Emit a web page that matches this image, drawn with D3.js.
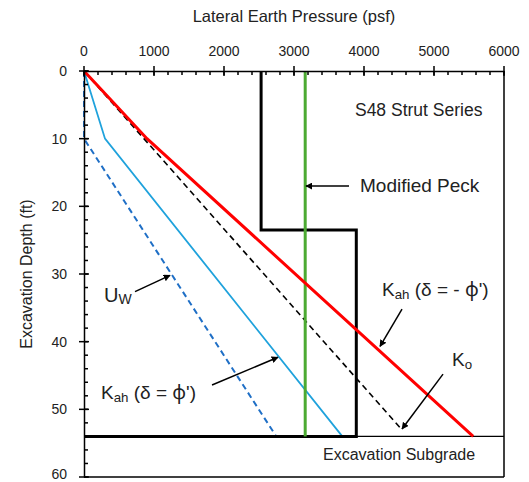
<!DOCTYPE html>
<html>
<head>
<meta charset="utf-8">
<script src="https://cdn.jsdelivr.net/npm/d3@7/dist/d3.min.js"></script>
<style>
  html, body { margin: 0; padding: 0; background: #fff; }
  svg { display: block; font-family: "Liberation Sans", Arial, sans-serif; }
</style>
</head>
<body>
<svg id="chart" width="529" height="482"></svg>
<script>
// ---------- data ----------
const xTicks = [0, 1000, 2000, 3000, 4000, 5000, 6000];
const yTicks = [0, 10, 20, 30, 40, 50, 60];

// Kah (delta = -phi')  red
const kahNegDepth = [0, 10, 54];
const kahNegPress = [0, 900, 5560];
// Kah (delta = phi')  light blue
const kahPosDepth = [0, 10, 54];
const kahPosPress = [0, 300, 3690];
// Ko  black dashed
const koDepth = [0, 53];
const koPress = [0, 4540];
// Uw  blue dashed
const uwDepth = [0, 10, 54];
const uwPress = [0, 0, 2746];
// apparent pressure envelope (black step)
const stepDepth = [0, 23.5, 23.5, 54, 54];
const stepPress = [2530, 2530, 3890, 3890, 0];
// Modified Peck (green)
const peckDepth = [0, 54];
const peckPress = [3160, 3160];
// excavation subgrade
const subgradeDepth = 54;

// ---------- layout ----------
const svg = d3.select("#chart");
const m = { top: 71, left: 84, right: 25, bottom: 5 };
const W = 529, H = 482;
const x = d3.scaleLinear().domain([0, 6000]).range([m.left, W - m.right]);
const y = d3.scaleLinear().domain([0, 60]).range([m.top, H - m.bottom]);

const line = (px, dp) => d3.line().x((d, i) => x(px[i])).y((d, i) => y(dp[i]))(px);

// frame (right & bottom)
svg.append("line").attr("x1", x(6000)).attr("x2", x(6000)).attr("y1", y(0)).attr("y2", y(60))
  .attr("stroke", "#000").attr("stroke-width", 1.5);
svg.append("line").attr("x1", x(0)).attr("x2", x(6000)).attr("y1", y(60)).attr("y2", y(60))
  .attr("stroke", "#000").attr("stroke-width", 1.5);

// subgrade thin line
svg.append("line").attr("x1", x(0)).attr("x2", x(6000)).attr("y1", y(subgradeDepth)).attr("y2", y(subgradeDepth))
  .attr("stroke", "#000").attr("stroke-width", 1.2);

// data lines
svg.append("path").attr("d", line(uwPress, uwDepth)).attr("fill", "none")
  .attr("stroke", "#1f6fc6").attr("stroke-width", 2).attr("stroke-dasharray", "6,4");
svg.append("path").attr("d", line(kahPosPress, kahPosDepth)).attr("fill", "none")
  .attr("stroke", "#1fa2dc").attr("stroke-width", 1.8);
svg.append("path").attr("d", line(koPress, koDepth)).attr("fill", "none")
  .attr("stroke", "#000").attr("stroke-width", 1.6).attr("stroke-dasharray", "6,4");
svg.append("path").attr("d", line(stepPress, stepDepth)).attr("fill", "none")
  .attr("stroke", "#000").attr("stroke-width", 3);
svg.append("path").attr("d", line(peckPress, peckDepth)).attr("fill", "none")
  .attr("stroke", "#4caa32").attr("stroke-width", 3);
svg.append("path").attr("d", line(kahNegPress, kahNegDepth)).attr("fill", "none")
  .attr("stroke", "#ff0000").attr("stroke-width", 3);

// ---------- axes ----------
const xAxisG = svg.append("g").attr("transform", `translate(0,${y(0)})`);
xAxisG.call(d3.axisTop(x).tickValues(xTicks).tickSize(0).tickFormat(""));
xAxisG.select(".domain").attr("stroke-width", 1.5);
xAxisG.selectAll(".minorx").data(d3.range(0, 6001, 200)).enter().append("line")
  .attr("x1", d => x(d)).attr("x2", d => x(d)).attr("y1", 0).attr("y2", 4)
  .attr("stroke", "#000").attr("stroke-width", 1.5);
xAxisG.selectAll(".majorx").data(xTicks).enter().append("line")
  .attr("x1", d => x(d)).attr("x2", d => x(d)).attr("y1", -5).attr("y2", 5)
  .attr("stroke", "#000").attr("stroke-width", 1.5);
xAxisG.selectAll(".xl").data(xTicks).enter().append("text")
  .attr("x", d => x(d)).attr("y", -15).attr("text-anchor", "middle")
  .attr("font-size", 14).attr("fill", "#222").text(d => d);

const yAxisG = svg.append("g").attr("transform", `translate(${x(0)},0)`);
yAxisG.call(d3.axisLeft(y).tickValues(yTicks).tickSize(0).tickFormat(""));
yAxisG.select(".domain").attr("stroke-width", 1.5);
yAxisG.selectAll(".minory").data(d3.range(0, 61, 2)).enter().append("line")
  .attr("x1", 0).attr("x2", 4).attr("y1", d => y(d)).attr("y2", d => y(d))
  .attr("stroke", "#000").attr("stroke-width", 1.5);
yAxisG.selectAll(".majory").data(yTicks).enter().append("line")
  .attr("x1", -5).attr("x2", 5).attr("y1", d => y(d)).attr("y2", d => y(d))
  .attr("stroke", "#000").attr("stroke-width", 1.5);
yAxisG.selectAll(".yl").data(yTicks).enter().append("text")
  .attr("x", -17).attr("y", d => Math.min(y(d), H - 8)).attr("dy", "0.35em").attr("text-anchor", "end")
  .attr("font-size", 14).attr("fill", "#222").text(d => d);

// axis titles
svg.append("text").attr("x", (x(0) + x(6000)) / 2).attr("y", 22).attr("text-anchor", "middle")
  .attr("font-size", 16.5).attr("fill", "#222").text("Lateral Earth Pressure (psf)");
svg.append("text").attr("transform", `translate(26,${(y(0) + y(60)) / 2}) rotate(-90)`)
  .attr("text-anchor", "middle").attr("dy", "0.35em")
  .attr("font-size", 16).attr("fill", "#222").text("Excavation Depth (ft)");

// ---------- annotations (data units) ----------
svg.append("defs").append("marker").attr("id", "arr").attr("viewBox", "0 0 10 10")
  .attr("refX", 9).attr("refY", 5).attr("markerWidth", 7).attr("markerHeight", 7)
  .attr("orient", "auto-start-reverse").attr("markerUnits", "userSpaceOnUse")
  .append("path").attr("d", "M0,0 L10,5 L0,10 z").attr("fill", "#000");

const arrows = [
  { from: [729, 32.6], to: [1229, 30.2] },     // Uw
  { from: [1829, 46.4], to: [2771, 42.3] },    // Kah (δ = φ')
  { from: [4543, 35.2], to: [4229, 40.7] },    // Kah (δ = -φ')
  { from: [5129, 44.8], to: [4543, 52.9] },    // Ko
  { from: [3786, 17.0], to: [3171, 17.0] }     // Modified Peck
];
svg.selectAll(".arrow").data(arrows).enter().append("line")
  .attr("x1", d => x(d.from[0])).attr("y1", d => y(d.from[1]))
  .attr("x2", d => x(d.to[0])).attr("y2", d => y(d.to[1]))
  .attr("stroke", "#000").attr("stroke-width", 1.5).attr("marker-end", "url(#arr)");

function label(px, dp, parts, size) {
  const t = svg.append("text").attr("x", x(px)).attr("y", y(dp)).attr("fill", "#222");
  parts.forEach(p => {
    const s = t.append("tspan").text(p.t).attr("font-size", p.sub ? size * 0.7 : size);
    if (p.sub) s.attr("baseline-shift", p.shift || "-22%");
    if (p.font) s.attr("font-family", p.font);
  });
  return t;
}
const phiFont = "'Noto Sans', 'Open Sans', sans-serif";
label(3871, 6.6, [{ t: "S48 Strut Series" }], 17.5);
label(3943, 17.85, [{ t: "Modified Peck" }], 19);
label(3414, 57.5, [{ t: "Excavation Subgrade" }], 16);
label(286, 34.2, [{ t: "U" }, { t: "W", sub: true, shift: "-14%" }], 20);
label(243, 48.4, [{ t: "K" }, { t: "ah", sub: true }, { t: " (δ =  " }, { t: "φ", font: phiFont }, { t: "')" }], 19);
label(4257, 33.2, [{ t: "K" }, { t: "ah", sub: true }, { t: " (δ = - " }, { t: "φ", font: phiFont }, { t: "')" }], 19);
label(5257, 43.6, [{ t: "K" }, { t: "o", sub: true }], 19);
</script>
</body>
</html>
